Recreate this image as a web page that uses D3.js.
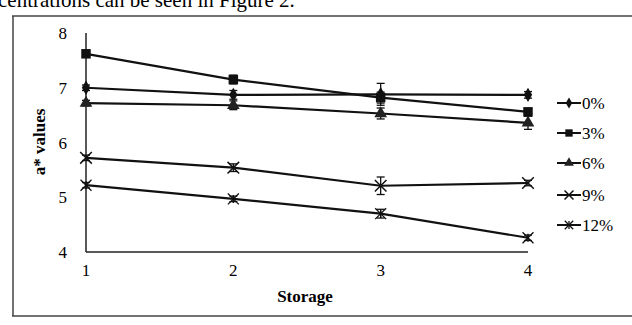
<!DOCTYPE html>
<style>
body { margin: 0; background: #fff; }
svg { font-family: "Liberation Serif", "Times New Roman", serif; }
</style>
<svg width="632" height="325"></svg>
<script src="https://d3js.org/d3.v7.min.js"></script>
<script>

var storage = [1, 2, 3, 4];
var seriesNames = ["0%", "3%", "6%", "9%", "12%"];
var v0 = [7.0, 6.87, 6.88, 6.87];
var v3 = [7.62, 7.15, 6.82, 6.56];
var v6 = [6.72, 6.68, 6.53, 6.36];
var v9 = [5.72, 5.54, 5.21, 5.26];
var v12 = [5.22, 4.97, 4.7, 4.26];
var err0 = [0.05, 0.08, 0.2, 0.06];
var err3 = [0.06, 0.08, 0.1, 0.06];
var err6 = [0.05, 0.08, 0.1, 0.12];
var err9 = [0.05, 0.07, 0.16, 0.05];
var err12 = [0.05, 0.05, 0.08, 0.05];
var yTicks = [4, 5, 6, 7, 8];

var values = [v0, v3, v6, v9, v12],
    errs = [err0, err3, err6, err9, err12],
    shapes = ["diamond", "square", "triangle", "x", "star"];

var svg = d3.select("svg");

// scanned page bits
svg.append("text")
    .attr("x", -2).attr("y", 7)
    .style("font-size", "21px")
    .text("centrations can be seen in Figure 2.");

svg.append("line").attr("x1", 12).attr("x2", 632).attr("y1", 16).attr("y2", 16)
    .attr("stroke", "#444").attr("stroke-width", 1.5);
svg.append("line").attr("x1", 13).attr("x2", 13).attr("y1", 16).attr("y2", 316)
    .attr("stroke", "#444").attr("stroke-width", 1.5);
svg.append("line").attr("x1", 12).attr("x2", 632).attr("y1", 316).attr("y2", 316)
    .attr("stroke", "#444").attr("stroke-width", 1.5);

var x = d3.scaleLinear().domain([1, 4]).range([86, 528]),
    y = d3.scaleLinear().domain([4, 8]).range([252, 33]);

// axes
svg.append("line").attr("x1", x(1)).attr("x2", x(1)).attr("y1", y(8)).attr("y2", y(4))
    .attr("stroke", "#222").attr("stroke-width", 1.5);
svg.append("line").attr("x1", x(1)).attr("x2", x(4)).attr("y1", y(4)).attr("y2", y(4))
    .attr("stroke", "#222").attr("stroke-width", 1.5);

svg.selectAll(".ytick").data(yTicks).enter().append("text")
    .attr("x", 67).attr("y", function(d) { return y(d) + 6; })
    .attr("text-anchor", "end")
    .style("font-size", "17px")
    .text(function(d) { return d; });

svg.selectAll(".xtick").data(storage).enter().append("text")
    .attr("x", function(d) { return x(d); }).attr("y", 276)
    .attr("text-anchor", "middle")
    .style("font-size", "17px")
    .text(function(d) { return d; });

svg.append("text")
    .attr("x", 305).attr("y", 302)
    .attr("text-anchor", "middle")
    .style("font-size", "17px").style("font-weight", "bold")
    .text("Storage");

svg.append("text")
    .attr("transform", "translate(45,142) rotate(-90)")
    .attr("text-anchor", "middle")
    .style("font-size", "17px").style("font-weight", "bold")
    .text("a* values");

function marker(g, shape, size) {
  var s = size;
  if (shape == "diamond") {
    g.append("path").attr("d", d3.symbol(d3.symbolDiamond, s * 6)()).attr("fill", "#111");
  } else if (shape == "square") {
    g.append("path").attr("d", d3.symbol(d3.symbolSquare, s * 9)()).attr("fill", "#111");
  } else if (shape == "triangle") {
    g.append("path").attr("d", d3.symbol(d3.symbolTriangle, s * 7)()).attr("fill", "#222");
  } else if (shape == "x") {
    g.append("path").attr("d", d3.symbol(d3.symbolX, s * 9)())
        .attr("fill", "none").attr("stroke", "#111").attr("stroke-width", 1.5);
  } else {
    g.append("path").attr("d", d3.symbol(d3.symbolX, s * 8)())
        .attr("fill", "none").attr("stroke", "#111").attr("stroke-width", 1.3);
    g.append("line").attr("x1", 0).attr("x2", 0).attr("y1", -4).attr("y2", 4)
        .attr("stroke", "#111").attr("stroke-width", 1.3);
  }
}

var line = d3.line()
    .x(function(d, i) { return x(storage[i]); })
    .y(function(d) { return y(d); });

values.forEach(function(vals, k) {
  svg.append("path")
      .attr("d", line(vals))
      .attr("fill", "none")
      .attr("stroke", "#111")
      .attr("stroke-width", 2.2);

  vals.forEach(function(v, i) {
    var cx = x(storage[i]), e = errs[k][i];
    svg.append("line").attr("x1", cx).attr("x2", cx)
        .attr("y1", y(v - e)).attr("y2", y(v + e))
        .attr("stroke", "#111").attr("stroke-width", 1.3);
    [v - e, v + e].forEach(function(t) {
      svg.append("line").attr("x1", cx - 4).attr("x2", cx + 4)
          .attr("y1", y(t)).attr("y2", y(t))
          .attr("stroke", "#111").attr("stroke-width", 1.3);
    });
    marker(svg.append("g").attr("transform", "translate(" + cx + "," + y(v) + ")"), shapes[k], 10);
  });
});

// legend
var legY = [103, 133, 163, 195, 225];
seriesNames.forEach(function(name, k) {
  var g = svg.append("g").attr("transform", "translate(557," + legY[k] + ")");
  g.append("line").attr("x1", 0).attr("x2", 24).attr("stroke", "#111").attr("stroke-width", 2);
  marker(g.append("g").attr("transform", "translate(12,0)"), shapes[k], 6);
  g.append("text").attr("x", 25).attr("y", 6)
      .style("font-size", "17px")
      .text(name);
});

</script>
